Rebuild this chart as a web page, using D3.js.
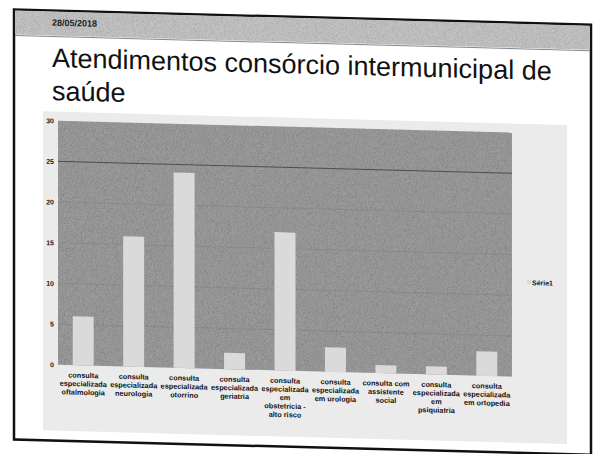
<!DOCTYPE html>
<html>
<head>
<meta charset="utf-8">
<script src="https://cdn.jsdelivr.net/npm/d3@7"></script>
<style>
  body { margin: 0; background: #ffffff; }
  text { font-family: "Liberation Sans", Arial, sans-serif; }
</style>
</head>
<body>
<div id="chart"></div>
<script>
// Data
var categories = [
"consulta\nespecializada\noftalmologia",
"consulta\nespecializada\nneurologia",
"consulta\nespecializada\notorrino",
"consulta\nespecializada\ngeriatria",
"consulta\nespecializada\nem\nobstetrícia -\nalto risco",
"consulta\nespecializada\nem urologia",
"consulta com\nassistente\nsocial",
"consulta\nespecializada\nem\npsiquiatria",
"consulta\nespecializada\nem ortopedia"
];
var values = [6, 16, 24, 2, 17, 3, 1, 1, 3];
var yTicks = [0, 5, 10, 15, 20, 25, 30];
var seriesName = "Série1";
var dateText = "28/05/2018";
var titleLines = ["Atendimentos consórcio intermunicipal de", "saúde"];

var W = 596, H = 454;
var plot = {left: 58, right: 512, top: 127, bottom: 371};
var skew = 1.5; // the printout sits a bit crooked in the scan

var svg = d3.select("#chart")
  .append("svg")
    .attr("width", W)
    .attr("height", H);

// grain filter to imitate the scan
var defs = svg.append("defs");
var f = defs.append("filter").attr("id", "grain")
    .attr("x", 0).attr("y", 0).attr("width", 1).attr("height", 1);
f.append("feTurbulence")
    .attr("type", "fractalNoise")
    .attr("baseFrequency", 1.1)
    .attr("numOctaves", 2)
    .attr("seed", 3);
f.append("feColorMatrix")
    .attr("type", "matrix")
    .attr("values", "0 0 0 0 0  0 0 0 0 0  0 0 0 0 0  -1.4 0 0 0 0.85");
f.append("feComposite").attr("in2", "SourceGraphic").attr("operator", "in");

var page = svg.append("g")
    .attr("transform", "translate(0," + (-Math.tan(skew * Math.PI / 180) * W / 2) + ") skewY(" + skew + ")");

// slide frame + header band
page.append("rect")
    .attr("x", 14).attr("y", 17)
    .attr("width", 577).attr("height", 430)
    .attr("fill", "#ffffff")
    .attr("stroke", "#111")
    .attr("stroke-width", 2.5);
page.append("rect")
    .attr("x", 15).attr("y", 18)
    .attr("width", 575).attr("height", 24)
    .attr("fill", "#c4c4c4");
page.append("rect")
    .attr("x", 15).attr("y", 18)
    .attr("width", 575).attr("height", 24)
    .attr("fill", "#000")
    .attr("filter", "url(#grain)")
    .style("opacity", 0.25);
page.append("line")
    .attr("x1", 15).attr("x2", 590)
    .attr("y1", 43).attr("y2", 43)
    .attr("stroke", "#888")
    .attr("stroke-width", 1);

page.append("text")
    .attr("x", 52).attr("y", 32)
    .text(dateText)
    .style("font-size", "9px")
    .style("font-weight", "bold")
    .style("fill", "#222");

page.selectAll("titleLine")
  .data(titleLines)
  .enter()
  .append("text")
    .attr("x", 52)
    .attr("y", function(d, i) { return 73.5 + i * 33; })
    .text(function(d) { return d; })
    .style("font-size", "27px")
    .style("fill", "#111");

// chart panel
page.append("rect")
    .attr("x", 43).attr("y", 118)
    .attr("width", 524).attr("height", 319)
    .attr("fill", "#ebebeb");

var x = d3.scaleBand()
    .domain(categories)
    .range([plot.left, plot.right])
    .paddingInner(0.584)
    .paddingOuter(0.292);

var y = d3.scaleLinear()
    .domain([0, 30])
    .range([plot.bottom, plot.top]);

// plot area
page.append("rect")
    .attr("x", plot.left).attr("y", plot.top)
    .attr("width", plot.right - plot.left)
    .attr("height", plot.bottom - plot.top)
    .attr("fill", "#9c9c9c");
page.append("rect")
    .attr("x", plot.left).attr("y", plot.top)
    .attr("width", plot.right - plot.left)
    .attr("height", plot.bottom - plot.top)
    .attr("fill", "#000")
    .attr("filter", "url(#grain)")
    .style("opacity", 0.3);

// gridlines
page.selectAll("gridLine")
  .data(yTicks.slice(1, -1))
  .enter()
  .append("line")
    .attr("x1", plot.left).attr("x2", plot.right)
    .attr("y1", function(d) { return y(d); })
    .attr("y2", function(d) { return y(d); })
    .attr("stroke", "#333")
    .attr("stroke-width", 0.8)
    .style("opacity", function(d) { return d === 25 ? 0.9 : 0.15; });

// bars
page.selectAll("bar")
  .data(values)
  .enter()
  .append("rect")
    .attr("x", function(d, i) { return x(categories[i]); })
    .attr("y", function(d) { return y(d); })
    .attr("width", x.bandwidth())
    .attr("height", function(d) { return y(0) - y(d); })
    .attr("fill", "#dadada");

// y axis
var yAxis = page.append("g")
    .attr("transform", "translate(" + (plot.left - 4) + ",0)")
    .call(d3.axisLeft(y).tickValues(yTicks).tickSize(0));
yAxis.select(".domain").remove();
yAxis.selectAll("text")
    .attr("x", 0)
    .style("font-size", "7px")
    .style("font-weight", "bold")
    .style("font-family", "Liberation Sans, Arial, sans-serif")
    .style("fill", "#222");

// x axis, labels wrapped on the line breaks
var xAxis = page.append("g")
    .attr("transform", "translate(0," + plot.bottom + ")")
    .call(d3.axisBottom(x).tickSize(0));
xAxis.select(".domain").remove();
xAxis.selectAll("text")
    .attr("y", 0)
    .attr("dy", null)
    .style("font-size", "7.3px")
    .style("font-weight", "bold")
    .style("font-family", "Liberation Sans, Arial, sans-serif")
    .style("fill", "#111")
    .each(function(d) {
      var t = d3.select(this).text("");
      d.split("\n").forEach(function(line, i) {
        t.append("tspan")
          .attr("x", 0)
          .attr("y", 12.5 + i * 8.5)
          .text(line);
      });
    });

// legend
page.append("rect")
    .attr("x", 527).attr("y", 274)
    .attr("width", 4).attr("height", 4)
    .attr("fill", "#dadada");
page.append("text")
    .attr("x", 532).attr("y", 279)
    .text(seriesName)
    .style("font-size", "7px")
    .style("font-weight", "bold")
    .style("fill", "#222");
</script>
</body>
</html>
